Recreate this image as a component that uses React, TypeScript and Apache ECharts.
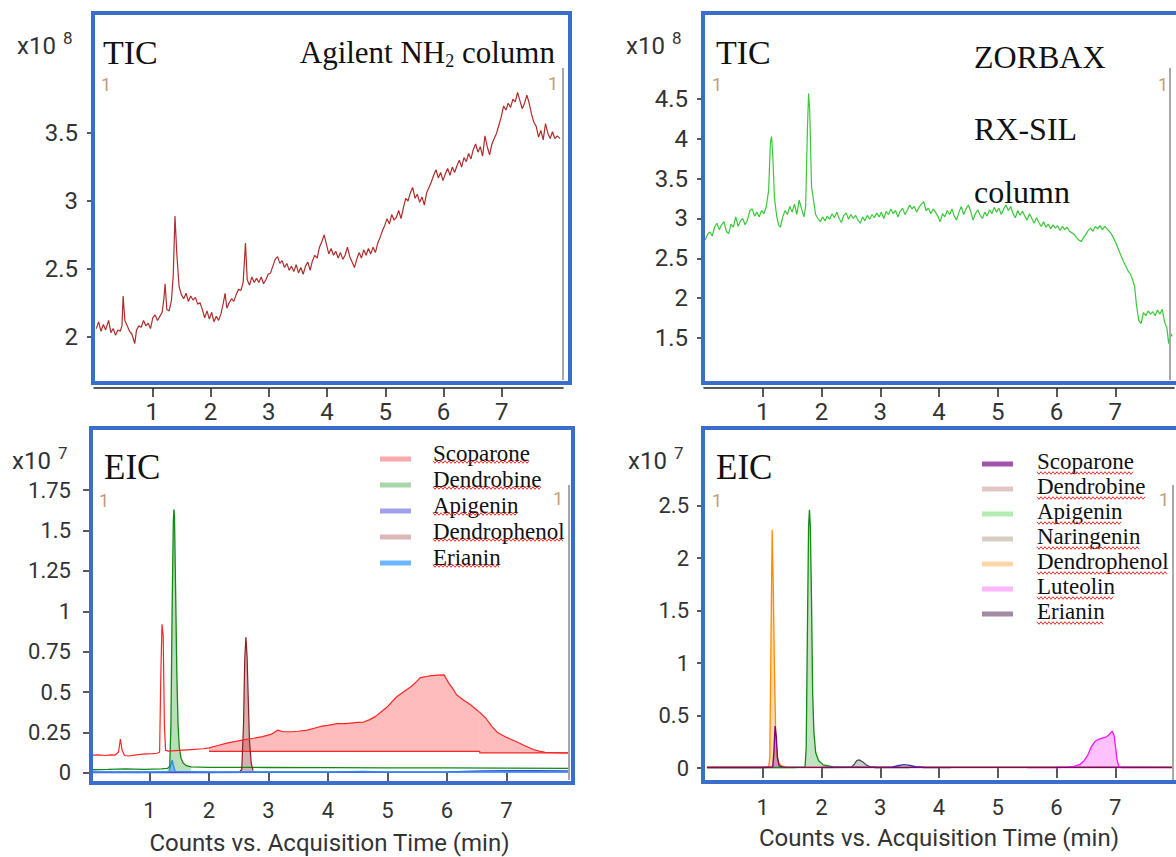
import React, { useEffect, useRef } from "react";
import * as echarts from "echarts";

// ---------------- data ----------------
// time in min; TIC in units of 1e8 counts; EIC in units of 1e7 counts
const ticNH2: number[][] = [
  [0.04,2.06],[0.08,2.11],[0.12,2.04],[0.16,2.09],[0.20,2.05],[0.25,2.12],[0.29,2.03],[0.33,2.06],[0.37,2.01],[0.41,2.05],
  [0.45,2.04],[0.48,2.08],[0.50,2.30],[0.53,2.12],[0.57,2.08],[0.61,2.04],[0.65,2.02],[0.70,1.95],[0.73,2.05],[0.77,2.08],
  [0.81,2.07],[0.85,2.12],[0.89,2.08],[0.93,2.10],[0.97,2.06],[1.01,2.14],[1.05,2.16],[1.09,2.12],[1.13,2.15],[1.17,2.18],
  [1.20,2.28],[1.22,2.39],[1.25,2.20],[1.29,2.19],[1.33,2.27],[1.36,2.45],[1.39,2.89],[1.42,2.62],[1.46,2.37],[1.50,2.31],
  [1.54,2.28],[1.58,2.32],[1.62,2.26],[1.66,2.30],[1.70,2.27],[1.74,2.29],[1.78,2.24],[1.82,2.25],[1.86,2.20],[1.90,2.14],
  [1.94,2.19],[1.98,2.13],[2.02,2.18],[2.06,2.11],[2.10,2.15],[2.14,2.12],[2.18,2.17],[2.22,2.25],[2.25,2.32],[2.28,2.21],
  [2.32,2.25],[2.36,2.28],[2.40,2.26],[2.44,2.31],[2.48,2.35],[2.52,2.34],[2.56,2.40],[2.60,2.69],[2.63,2.42],[2.67,2.38],
  [2.71,2.44],[2.75,2.40],[2.79,2.43],[2.83,2.40],[2.87,2.44],[2.91,2.39],[2.95,2.42],[2.99,2.46],[3.03,2.47],[3.07,2.52],
  [3.11,2.57],[3.15,2.59],[3.19,2.54],[3.23,2.56],[3.27,2.51],[3.31,2.54],[3.35,2.49],[3.39,2.52],[3.43,2.48],[3.47,2.53],
  [3.51,2.47],[3.55,2.51],[3.59,2.46],[3.63,2.52],[3.67,2.55],[3.71,2.49],[3.75,2.56],[3.79,2.60],[3.83,2.58],[3.87,2.66],
  [3.91,2.70],[3.95,2.75],[3.99,2.68],[4.03,2.61],[4.07,2.65],[4.11,2.60],[4.15,2.63],[4.19,2.58],[4.23,2.62],[4.27,2.57],
  [4.31,2.60],[4.35,2.66],[4.39,2.59],[4.43,2.55],[4.47,2.51],[4.51,2.57],[4.55,2.62],[4.59,2.58],[4.63,2.64],[4.67,2.60],
  [4.71,2.65],[4.75,2.61],[4.79,2.66],[4.83,2.62],[4.87,2.69],[4.91,2.73],[4.95,2.78],[4.99,2.82],[5.03,2.87],[5.07,2.83],
  [5.11,2.90],[5.15,2.86],[5.19,2.88],[5.23,2.93],[5.27,2.87],[5.31,2.95],[5.35,3.02],[5.39,3.00],[5.43,3.06],[5.47,3.10],
  [5.51,3.02],[5.55,3.05],[5.59,2.99],[5.63,3.03],[5.67,2.97],[5.71,3.06],[5.75,3.10],[5.79,3.14],[5.83,3.19],[5.87,3.23],
  [5.91,3.17],[5.95,3.21],[5.99,3.15],[6.03,3.20],[6.07,3.24],[6.11,3.19],[6.15,3.25],[6.19,3.21],[6.23,3.26],[6.27,3.30],
  [6.31,3.25],[6.35,3.32],[6.39,3.29],[6.43,3.35],[6.47,3.31],[6.51,3.38],[6.55,3.42],[6.59,3.36],[6.63,3.40],[6.67,3.33],
  [6.71,3.48],[6.75,3.40],[6.79,3.34],[6.83,3.42],[6.87,3.46],[6.91,3.50],[6.95,3.56],[6.99,3.62],[7.03,3.70],[7.07,3.67],
  [7.11,3.72],[7.15,3.69],[7.19,3.75],[7.23,3.73],[7.27,3.80],[7.31,3.74],[7.35,3.68],[7.39,3.72],[7.43,3.78],[7.47,3.72],
  [7.51,3.64],[7.55,3.58],[7.59,3.55],[7.63,3.47],[7.67,3.52],[7.71,3.45],[7.75,3.57],[7.79,3.50],[7.83,3.46],[7.87,3.51],
  [7.91,3.46],[7.95,3.48],[8.00,3.46]
];

const ticZorbax: number[][] = [
  [0.02,2.73],[0.06,2.80],[0.10,2.83],[0.14,2.78],[0.18,2.89],[0.22,2.94],[0.26,2.86],[0.30,2.92],[0.34,2.96],[0.38,2.84],
  [0.42,2.81],[0.46,2.93],[0.50,2.89],[0.54,3.02],[0.58,2.90],[0.62,2.97],[0.66,3.00],[0.70,2.92],[0.74,2.98],[0.78,3.10],
  [0.82,3.12],[0.86,3.03],[0.90,3.08],[0.94,3.02],[0.98,3.10],[1.02,3.06],[1.06,3.15],[1.10,3.35],[1.13,3.95],[1.15,4.03],
  [1.17,3.80],[1.20,3.25],[1.24,3.02],[1.27,2.92],[1.30,2.89],[1.34,3.02],[1.38,3.10],[1.42,3.05],[1.46,3.15],[1.50,3.08],
  [1.54,3.18],[1.58,3.05],[1.62,3.23],[1.66,3.12],[1.70,3.02],[1.73,3.15],[1.76,4.10],[1.78,4.57],[1.80,4.35],[1.83,3.40],
  [1.86,3.25],[1.90,3.05],[1.94,3.00],[1.98,2.96],[2.02,3.02],[2.06,2.97],[2.10,3.03],[2.14,2.99],[2.18,3.06],[2.22,3.01],
  [2.26,3.08],[2.30,3.00],[2.34,2.95],[2.38,3.04],[2.42,3.07],[2.46,2.99],[2.50,3.05],[2.54,3.00],[2.58,3.04],[2.62,2.98],
  [2.66,2.94],[2.70,3.02],[2.74,2.97],[2.78,3.04],[2.82,2.99],[2.86,3.05],[2.90,3.01],[2.94,3.07],[2.98,3.02],[3.02,3.08],
  [3.06,3.00],[3.10,3.09],[3.14,3.05],[3.18,3.12],[3.22,3.06],[3.26,3.10],[3.30,3.02],[3.34,3.09],[3.38,3.13],[3.42,3.05],
  [3.46,3.10],[3.50,3.17],[3.54,3.12],[3.58,3.15],[3.62,3.08],[3.66,3.14],[3.70,3.18],[3.74,3.21],[3.78,3.10],[3.82,3.13],
  [3.86,3.06],[3.90,3.12],[3.94,3.08],[3.98,3.03],[4.02,2.96],[4.06,3.06],[4.10,3.02],[4.14,3.10],[4.18,3.05],[4.22,3.12],
  [4.26,3.03],[4.30,2.98],[4.34,3.08],[4.38,3.15],[4.42,3.05],[4.46,3.12],[4.50,3.17],[4.54,3.09],[4.58,2.98],[4.62,3.06],
  [4.66,3.11],[4.70,3.04],[4.74,3.00],[4.78,3.08],[4.82,3.03],[4.86,3.11],[4.90,3.06],[4.94,3.14],[4.98,3.08],[5.02,3.13],
  [5.06,3.05],[5.10,3.12],[5.14,3.17],[5.18,3.10],[5.22,3.15],[5.26,3.06],[5.30,3.01],[5.34,3.10],[5.38,3.04],[5.42,3.09],
  [5.46,3.03],[5.50,2.98],[5.54,3.06],[5.58,3.00],[5.62,2.94],[5.66,3.01],[5.70,2.95],[5.74,2.90],[5.78,2.96],[5.82,2.89],
  [5.86,2.93],[5.90,2.87],[5.94,2.92],[5.98,2.88],[6.02,2.91],[6.06,2.85],[6.10,2.90],[6.14,2.86],[6.18,2.89],[6.22,2.84],
  [6.26,2.82],[6.30,2.80],[6.34,2.76],[6.38,2.73],[6.42,2.71],[6.46,2.76],[6.50,2.80],[6.54,2.85],[6.58,2.88],[6.62,2.84],
  [6.66,2.90],[6.70,2.87],[6.74,2.91],[6.78,2.86],[6.82,2.90],[6.86,2.87],[6.90,2.84],[6.94,2.80],[6.98,2.74],[7.02,2.68],
  [7.06,2.60],[7.10,2.53],[7.14,2.46],[7.18,2.40],[7.22,2.34],[7.26,2.30],[7.30,2.22],[7.33,2.15],[7.36,1.92],[7.40,1.72],
  [7.44,1.68],[7.48,1.82],[7.52,1.78],[7.56,1.84],[7.60,1.80],[7.64,1.83],[7.68,1.78],[7.72,1.85],[7.76,1.80],[7.80,1.86],
  [7.84,1.70],[7.88,1.62],[7.91,1.43],[7.94,1.56],[7.97,1.52]
];

// EIC, Agilent NH2 column
const scoparoneBL: number[][] = [
  [0.05,0.11],[0.15,0.112],[0.25,0.108],[0.35,0.112],[0.42,0.11],[0.48,0.13],[0.51,0.21],[0.54,0.14],[0.58,0.108],[0.65,0.105],
  [0.75,0.11],[0.85,0.115],[0.95,0.118],[1.05,0.12],[1.13,0.122],[1.17,0.13],[1.19,0.60],[1.21,0.92],[1.23,0.85],[1.25,0.30],
  [1.27,0.14],[1.32,0.135],[1.5,0.14],[1.7,0.145],[1.9,0.15],[2.0,0.155],[2.15,0.17],[2.3,0.185],[2.45,0.195],[2.6,0.206],
  [2.75,0.215],[2.9,0.225],[3.05,0.24],[3.15,0.265],[3.25,0.255],[3.4,0.255],[3.5,0.258],[3.65,0.265],[3.8,0.28],[3.9,0.29],
  [4.0,0.295],[4.15,0.305],[4.3,0.305],[4.5,0.313],[4.6,0.315],[4.7,0.33],[4.8,0.35],[4.9,0.38],[5.0,0.41],[5.15,0.47],
  [5.3,0.51],[5.4,0.535],[5.5,0.57],[5.55,0.59],[5.7,0.60],[5.85,0.605],[5.95,0.607],[6.03,0.556],[6.1,0.52],[6.16,0.484],
  [6.28,0.45],[6.4,0.42],[6.5,0.39],[6.55,0.375],[6.65,0.34],[6.75,0.29],[6.85,0.25],[7.0,0.22],[7.15,0.196],[7.3,0.17],
  [7.45,0.145],[7.55,0.135],[7.65,0.128],[7.8,0.125],[7.95,0.124],[8.05,0.124]
];
// integration baselines of the Scoparone hump: [from, to, level]
const scoparoneBLBaselines: number[][] = [[2.0, 6.55, 0.134], [6.55, 8.05, 0.124]];
const dendrobineBL: number[][] = [
  [0.05,0.02],[0.3,0.022],[0.6,0.025],[0.9,0.022],[1.2,0.025],[1.3,0.028],[1.34,0.04],[1.36,0.3],[1.38,1.0],[1.40,1.55],
  [1.41,1.63],[1.42,1.58],[1.44,1.1],[1.46,0.6],[1.48,0.3],[1.50,0.16],[1.53,0.09],[1.57,0.06],[1.62,0.045],[1.7,0.038],
  [2.0,0.035],[3.0,0.034],[4.0,0.033],[5.0,0.032],[6.0,0.031],[7.0,0.03],[8.05,0.028]
];
const dendrobineBLPeak: number[] = [1.3, 1.7];
const apigeninBL: number[][] = [[0.05,0.004],[2.0,0.004],[4.0,0.005],[6.0,0.006],[6.6,0.012],[7.5,0.014],[8.05,0.012]];
const dendrophenolBL: number[][] = [
  [2.52,0.012],[2.55,0.02],[2.58,0.3],[2.60,0.7],[2.62,0.84],[2.64,0.72],[2.66,0.45],[2.68,0.2],[2.71,0.06],[2.74,0.015]
];
const erianinBL: number[][] = [
  [0.05,0.006],[1.0,0.006],[1.33,0.008],[1.36,0.05],[1.38,0.08],[1.40,0.05],[1.43,0.01],[2.0,0.006],[4.0,0.006],[4.6,0.009],
  [5.0,0.006],[8.05,0.006]
];

// EIC, ZORBAX RX-SIL column
const scoparoneBR: number[][] = [
  [0.05,0.005],[1.0,0.005],[1.17,0.01],[1.19,0.15],[1.21,0.40],[1.23,0.30],[1.25,0.10],[1.28,0.02],[1.35,0.008],[2.0,0.006],[8.0,0.006]
];
const dendrobineBR: number[][] = [[0.05,0.003],[2.0,0.003],[4.0,0.004],[6.0,0.003],[8.0,0.003]];
const apigeninBR: number[][] = [
  [0.05,0.005],[1.5,0.005],[1.72,0.008],[1.74,0.2],[1.76,1.3],[1.78,2.3],[1.795,2.46],[1.81,2.3],[1.83,1.6],[1.85,0.7],
  [1.87,0.35],[1.9,0.15],[1.95,0.07],[2.03,0.03],[2.2,0.01],[3.0,0.006],[8.0,0.006]
];
const naringeninBR: number[][] = [
  [2.0,0.005],[2.5,0.006],[2.55,0.03],[2.6,0.07],[2.64,0.078],[2.7,0.06],[2.76,0.03],[2.83,0.01],[2.95,0.005],[3.5,0.004]
];
const dendrophenolBR: number[][] = [
  [0.05,0.01],[0.5,0.01],[1.0,0.01],[1.10,0.012],[1.12,0.1],[1.14,1.2],[1.16,2.27],[1.18,1.7],[1.20,0.9],[1.22,0.35],
  [1.24,0.12],[1.27,0.05],[1.32,0.02],[1.4,0.01],[2.0,0.008],[8.0,0.008]
];
const luteolinBR: number[][] = [
  [5.5,0.004],[6.0,0.005],[6.2,0.008],[6.3,0.015],[6.4,0.035],[6.47,0.07],[6.53,0.12],[6.59,0.2],[6.65,0.25],[6.7,0.27],
  [6.78,0.285],[6.84,0.295],[6.88,0.31],[6.92,0.335],[6.95,0.35],[6.98,0.31],[7.01,0.18],[7.03,0.08],[7.06,0.015],[7.1,0.005],[8.0,0.004]
];
const erianinBR: number[][] = [
  [2.9,0.004],[3.2,0.008],[3.3,0.022],[3.4,0.032],[3.5,0.025],[3.6,0.012],[3.75,0.005],[4.2,0.004]
];

// ticks
const xTicks = [1, 2, 3, 4, 5, 6, 7];
const yTicksTL = [2, 2.5, 3, 3.5];
const yTicksTR = [1.5, 2, 2.5, 3, 3.5, 4, 4.5];
const yTicksBL = [0, 0.25, 0.5, 0.75, 1, 1.25, 1.5, 1.75];
const yTicksBR = [0, 0.5, 1, 1.5, 2, 2.5];

// legends
const legendBL = ["Scoparone", "Dendrobine", "Apigenin", "Dendrophenol", "Erianin"];
const legendBLColors = ["#f9a9a9", "#a9d6a9", "#a0a0ec", "#dcb8b8", "#6cb6ff"];
const legendBR = ["Scoparone", "Dendrobine", "Apigenin", "Naringenin", "Dendrophenol", "Luteolin", "Erianin"];
const legendBRColors = ["#a352ab", "#e2c6c6", "#b2ecb2", "#d6cec2", "#ffd6aa", "#ffb6ff", "#a38aa3"];

// ---------------- styling ----------------
const BLUE = "#3b6dcc";
const AX = "#222";
const SANS = "Roboto";
const SERIF = "Liberation Serif";
const TICK_FS_TOP = 24;
const TICK_FS_BOT = 22;
const LEG_FS = 23;

function measure(text: string, font: string): number {
  const c = document.createElement("canvas").getContext("2d");
  if (!c) return text.length * 10;
  c.font = font;
  return c.measureText(text).width;
}

function zigzag(x0: number, w: number, y: number) {
  const pts: number[][] = [];
  let up = true;
  for (let x = x0; x <= x0 + w; x += 2) {
    pts.push([x, y + (up ? -1.3 : 1.3)]);
    up = !up;
  }
  return { type: "polyline", z: 100, silent: true, shape: { points: pts }, style: { stroke: "#e8302a", lineWidth: 1, fill: "none" } };
}

function txt(text: string, x: number, y: number, size: number, family: string, fill: string, align = "left") {
  return {
    type: "text", x, y, z: 100, silent: true,
    style: { text, fontSize: size, fontFamily: family, fill, align, textAlign: align, verticalAlign: "middle", textVerticalAlign: "middle" },
  };
}

function xAxisDef(gridIndex: number, max: number, offset: number, showLine: boolean, tickLen: number, margin: number, fs: number, name?: string) {
  return {
    type: "value", gridIndex, min: 0, max, offset,
    axisLine: { show: showLine, lineStyle: { color: AX, width: 1.5 } },
    axisTick: { show: true, length: tickLen, customValues: xTicks, lineStyle: { color: AX, width: 1.5 } },
    axisLabel: { customValues: xTicks, margin, fontSize: fs, color: "#333", fontFamily: SANS },
    splitLine: { show: false },
    name: name || "", nameLocation: "middle", nameGap: 44,
    nameTextStyle: { fontSize: 24, color: "#333", fontFamily: SANS },
  };
}

function yAxisDef(gridIndex: number, min: number, max: number, offset: number, ticks: number[], margin: number, fs: number) {
  return {
    type: "value", gridIndex, min, max, offset,
    axisLine: { show: true, lineStyle: { color: AX, width: 1.5 } },
    axisTick: { show: true, length: 7, customValues: ticks, lineStyle: { color: AX, width: 1.5 } },
    axisLabel: { customValues: ticks, margin, fontSize: fs, color: "#333", fontFamily: SANS },
    splitLine: { show: false },
  };
}

function lineS(name: string, data: number[][], idx: number, color: string, width = 1.2) {
  return {
    type: "line", name, data, xAxisIndex: idx, yAxisIndex: idx, symbol: "none", showSymbol: false,
    lineStyle: { color, width }, itemStyle: { color }, silent: true, z: 3,
  };
}

function areaS(name: string, data: number[][], idx: number, fill: string, origin: number | string = "auto") {
  return {
    type: "line", name, data, xAxisIndex: idx, yAxisIndex: idx, symbol: "none", showSymbol: false,
    lineStyle: { width: 0, opacity: 0 }, itemStyle: { color: fill }, areaStyle: { color: fill, origin, opacity: 1 }, silent: true, z: 2,
  };
}

const between = (d: number[][], a: number, b: number) => d.filter((p) => p[0] >= a && p[0] <= b);

// The legend swatch sits "drop" px below the text: the icon path carries an invisible
// anchor at its top-left so that the swatch lies at the bottom of its box.
function legendDef(names: string[], colors: string[], left: number, top: number, rowH: number, padLeft: number, drop: number) {
  const boxH = 5 + 2 * drop;
  return {
    orient: "vertical", left, top, padding: 0, itemWidth: 31, itemHeight: boxH, itemGap: 0,
    icon: `path://M0,0h0.01v0.01h-0.01zM0,${boxH - 5}h31v5h-31z`,
    symbolKeepAspect: false,
    selectedMode: false,
    itemStyle: { borderWidth: 0 },
    lineStyle: { width: 0, opacity: 0 },
    textStyle: { fontFamily: SERIF, fontSize: LEG_FS, color: "#111", lineHeight: rowH, padding: [0, 0, 0, padLeft] },
    data: names.map((n, i) => ({ name: n, itemStyle: { color: colors[i], borderWidth: 0 } })),
  };
}

export default function App() {
  const ref = useRef<HTMLDivElement>(null);
  useEffect(() => {
    if (!ref.current) return;
    const chart = echarts.init(ref.current, undefined, { renderer: "svg" });
    const legFont = `${LEG_FS}px '${SERIF}'`;

    const graphics: any[] = [
      // panel frames
      { type: "rect", z: 100, silent: true, shape: { x: 93, y: 13, width: 477, height: 370 }, style: { fill: "none", stroke: BLUE, lineWidth: 4 } },
      { type: "rect", z: 100, silent: true, shape: { x: 703, y: 13, width: 482, height: 370 }, style: { fill: "none", stroke: BLUE, lineWidth: 4 } },
      { type: "rect", z: 100, silent: true, shape: { x: 91, y: 428, width: 482, height: 355 }, style: { fill: "none", stroke: BLUE, lineWidth: 4 } },
      { type: "rect", z: 100, silent: true, shape: { x: 703, y: 428, width: 482, height: 354 }, style: { fill: "none", stroke: BLUE, lineWidth: 4 } },
      // right-hand gray range lines
      { type: "line", z: 99, silent: true, shape: { x1: 563, y1: 68, x2: 563, y2: 380 }, style: { stroke: "#a8a8a8", lineWidth: 2 } },
      { type: "line", z: 99, silent: true, shape: { x1: 1170, y1: 68, x2: 1170, y2: 380 }, style: { stroke: "#a8a8a8", lineWidth: 2 } },
      { type: "line", z: 99, silent: true, shape: { x1: 569, y1: 485, x2: 569, y2: 780 }, style: { stroke: "#a8a8a8", lineWidth: 2 } },
      { type: "line", z: 99, silent: true, shape: { x1: 1173, y1: 485, x2: 1173, y2: 780 }, style: { stroke: "#a8a8a8", lineWidth: 2 } },
      // range markers
      txt("1", 101, 84, 18, SANS, "#c29c78"), txt("1", 548, 83, 18, SANS, "#c29c78"),
      txt("1", 712, 84, 18, SANS, "#c29c78"), txt("1", 1158, 84, 18, SANS, "#c29c78"),
      txt("1", 99, 500, 18, SANS, "#c29c78"), txt("1", 553, 498, 18, SANS, "#c29c78"),
      txt("1", 712, 500, 18, SANS, "#c29c78"), txt("1", 1159, 499, 18, SANS, "#c29c78"),
      // scale labels
      txt("x10", 17, 46, 24, SANS, "#333"), txt("8", 63, 38, 17, SANS, "#333"),
      txt("x10", 626, 46, 24, SANS, "#333"), txt("8", 672, 38, 17, SANS, "#333"),
      txt("x10", 12, 461, 24, SANS, "#333"), txt("7", 58, 453, 17, SANS, "#333"),
      txt("x10", 628, 461, 24, SANS, "#333"), txt("7", 674, 453, 17, SANS, "#333"),
      // panel titles
      txt("TIC", 103, 52, 34, SERIF, "#111"),
      txt("TIC", 716, 52, 34, SERIF, "#111"),
      txt("EIC", 104, 467, 35, SERIF, "#111"),
      txt("EIC", 716, 467, 35, SERIF, "#111"),
      {
        type: "text", x: 555, y: 52, z: 100, silent: true,
        style: {
          text: "{a|Agilent NH}{s|2}{a| column}", align: "right", textAlign: "right", verticalAlign: "middle", textVerticalAlign: "middle",
          fill: "#111",
          rich: {
            a: { fontSize: 31, fontFamily: SERIF, fill: "#111" },
            s: { fontSize: 18, fontFamily: SERIF, fill: "#111", padding: [17, 0, 0, 0] },
          },
        },
      },
      txt("ZORBAX", 974, 57, 32, SERIF, "#111"),
      txt("RX-SIL", 974, 129, 32, SERIF, "#111"),
      txt("column", 974, 192, 32, SERIF, "#111"),
    ];
    legendBL.forEach((n, i) => graphics.push(zigzag(433, measure(n, legFont), 462 + 26 * i)));
    legendBR.forEach((n, i) => graphics.push(zigzag(1037, measure(n, legFont), 473 + 25 * i)));

    const series: any[] = [
      lineS("TIC NH2", ticNH2, 0, "#b02c2c", 1.2),
      lineS("TIC ZORBAX", ticZorbax, 1, "#38c838", 1.2),
      // bottom-left EIC
      areaS("Scoparone area 1", between(scoparoneBL, scoparoneBLBaselines[0][0], scoparoneBLBaselines[0][1]), 2, "rgba(255,95,95,0.42)", scoparoneBLBaselines[0][2]),
      areaS("Scoparone area 2", between(scoparoneBL, scoparoneBLBaselines[1][0], scoparoneBLBaselines[1][1]), 2, "rgba(255,95,95,0.42)", scoparoneBLBaselines[1][2]),
      areaS("Dendrobine area", between(dendrobineBL, dendrobineBLPeak[0], dendrobineBLPeak[1]), 2, "rgba(40,150,40,0.32)", 0),
      areaS("Dendrophenol area", dendrophenolBL, 2, "rgba(150,50,50,0.38)", 0),
      areaS("Erianin area", erianinBL, 2, "rgba(60,150,255,0.45)", 0),
      lineS("Scoparone baseline", scoparoneBLBaselines.flatMap((b) => [[b[0], b[2]], [b[1], b[2]]]), 2, "#ff2424", 1.2),
      lineS("Apigenin", apigeninBL, 2, "#4a4ad0", 1.6),
      lineS("Erianin", erianinBL, 2, "#2a8cff", 1.4),
      lineS("Dendrobine", dendrobineBL, 2, "#138a13", 1.3),
      lineS("Dendrophenol", dendrophenolBL, 2, "#8b2020", 1.2),
      lineS("Scoparone", scoparoneBL, 2, "#ff2424", 1.2),
      // bottom-right EIC
      areaS("Dendrophenol area R", dendrophenolBR, 3, "rgba(255,170,60,0.4)", 0),
      areaS("Apigenin area R", apigeninBR, 3, "rgba(60,170,60,0.32)", 0),
      areaS("Naringenin area R", naringeninBR, 3, "rgba(110,110,110,0.35)", 0),
      areaS("Luteolin area R", luteolinBR, 3, "rgba(255,100,255,0.4)", 0),
      areaS("Scoparone area R", scoparoneBR, 3, "rgba(128,0,128,0.35)", 0),
      lineS("Dendrobine", dendrobineBR, 3, "#c98c8c", 1.2),
      lineS("Dendrophenol", dendrophenolBR, 3, "#ff8c00", 1.3),
      lineS("Apigenin", apigeninBR, 3, "#138a13", 1.3),
      lineS("Naringenin", naringeninBR, 3, "#505050", 1.3),
      lineS("Erianin", erianinBR, 3, "#3030a8", 1.4),
      lineS("Luteolin", luteolinBR, 3, "#ff10ff", 1.3),
      lineS("Scoparone", scoparoneBR, 3, "#800080", 1.4),
    ];

    const option: any = {
      animation: false,
      backgroundColor: "#ffffff",
      grid: [
        { left: 94, top: 68, width: 469, height: 304, outerBoundsMode: "none" },
        { left: 704, top: 68, width: 470, height: 304, outerBoundsMode: "none" },
        { left: 90, top: 485, width: 479, height: 293, outerBoundsMode: "none" },
        { left: 704, top: 483, width: 470, height: 289, outerBoundsMode: "none" },
      ],
      xAxis: [
        xAxisDef(0, 8.05, 16, true, 9, 12, TICK_FS_TOP),
        xAxisDef(1, 8.0, 16, true, 9, 12, TICK_FS_TOP),
        xAxisDef(2, 8.05, 9, false, 10, 12, TICK_FS_BOT, "Counts vs. Acquisition Time (min)"),
        xAxisDef(3, 8.0, 10, false, 10, 14, TICK_FS_BOT, "Counts vs. Acquisition Time (min)"),
      ],
      yAxis: [
        yAxisDef(0, 1.74, 3.98, 5, yTicksTL, 11, TICK_FS_TOP),
        yAxisDef(1, 1.073, 4.889, 7, yTicksTR, 9, TICK_FS_TOP),
        yAxisDef(2, -0.031, 1.781, 5, yTicksBL, 14, TICK_FS_BOT),
        yAxisDef(3, -0.038, 2.716, 6, yTicksBR, 9, TICK_FS_BOT),
      ],
      legend: [
        legendDef(legendBL, legendBLColors, 380, 440, 26, 17, 6),
        legendDef(legendBR, legendBRColors, 982, 448.5, 25, 19, 3),
      ],
      graphic: { elements: graphics },
      series,
    };
    chart.setOption(option);
    return () => chart.dispose();
  }, []);
  return <div ref={ref} style={{ position: "fixed", left: 0, top: 0, width: 1176, height: 857, background: "#fff" }} />;
}
